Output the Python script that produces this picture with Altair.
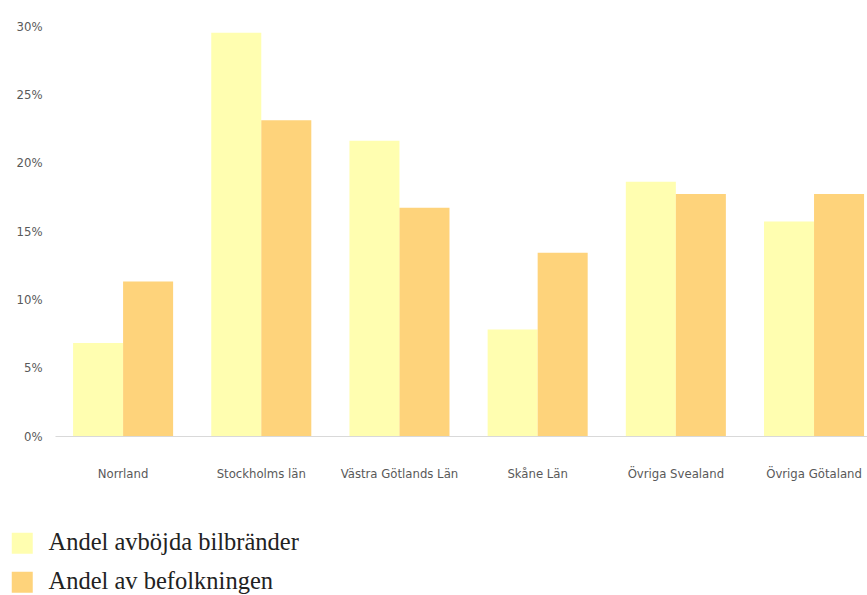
import altair as alt
import pandas as pd

# Share of refused car fires vs. share of population, per region (%)
regions = ["Norrland", "Stockholms län", "Västra Götlands Län",
           "Skåne Län", "Övriga Svealand", "Övriga Götaland"]
series = ["Andel avböjda bilbränder", "Andel av befolkningen"]
bilbrander = [6.8, 29.5, 21.6, 7.8, 18.6, 15.7]
befolkning = [11.3, 23.1, 16.7, 13.4, 17.7, 17.7]
colors = ["#FFFEB0", "#FED37B"]

rows = []
for i, r in enumerate(regions):
    rows.append({"region": r, "serie": series[0], "andel": bilbrander[i] / 100})
    rows.append({"region": r, "serie": series[1], "andel": befolkning[i] / 100})
df = pd.DataFrame(rows)

label_font = "DejaVu Sans Condensed, Liberation Sans, sans-serif"

chart = alt.Chart(df).mark_bar().encode(
    x=alt.X("region:N", sort=regions, title=None,
            scale=alt.Scale(paddingInner=0.276, paddingOuter=0.076, align=0.86),
            axis=alt.Axis(labelAngle=0, ticks=False, domainColor="#D9D9D9",
                          domainWidth=1, labelPadding=31, labelFont=label_font,
                          labelFontSize=13, labelColor="#595959", labelLimit=0)),
    xOffset=alt.XOffset("serie:N", sort=series,
                        scale=alt.Scale(paddingInner=0, paddingOuter=0)),
    y=alt.Y("andel:Q", title=None,
            scale=alt.Scale(domain=[0, 0.30], nice=False),
            axis=alt.Axis(format=".0%", values=[0, 0.05, 0.10, 0.15, 0.20, 0.25, 0.30],
                          grid=False, domain=False, ticks=False, labelPadding=13,
                          labelFont=label_font, labelFontSize=13,
                          labelColor="#595959")),
    color=alt.Color("serie:N", sort=series,
                    scale=alt.Scale(domain=series, range=colors),
                    legend=alt.Legend(title=None, orient="none", legendX=-45,
                                      legendY=505, symbolType="square",
                                      symbolSize=441, symbolStrokeWidth=0,
                                      labelFont="Liberation Serif",
                                      labelFontSize=24.5, labelColor="#222222",
                                      labelLimit=0, labelOffset=14,
                                      rowPadding=14, padding=0)),
).properties(
    width=812,
    height=410,
    background="white",
    autosize=alt.AutoSizeParams(type="none"),
    padding={"left": 55, "top": 26, "right": 0, "bottom": 159},
).configure_view(stroke=None)

chart.save("out.html", embed_options={"renderer": "svg", "actions": False})
